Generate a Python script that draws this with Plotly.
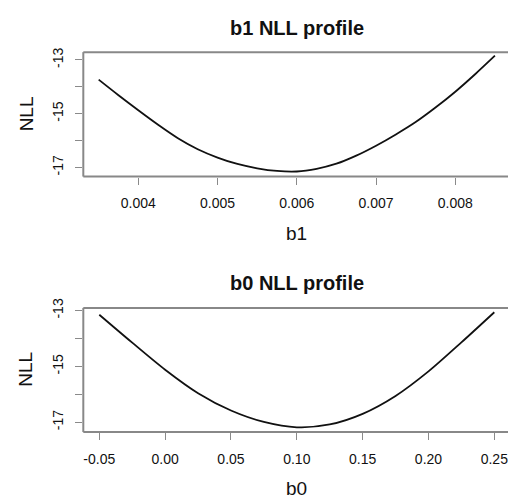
import plotly.graph_objects as go

# ---- data ----
b1_vals = [0.0035, 0.00375, 0.004, 0.00425, 0.0045, 0.00475, 0.005, 0.00525,
           0.0055, 0.00575, 0.006, 0.00625, 0.0065, 0.00675, 0.007, 0.00725,
           0.0075, 0.00775, 0.008, 0.00825, 0.0085]
b1_nll = [-13.73, -14.31, -14.87, -15.41, -15.91, -16.32, -16.63, -16.87,
          -17.03, -17.13, -17.15, -17.05, -16.86, -16.56, -16.19, -15.77,
          -15.31, -14.77, -14.18, -13.53, -12.84]

b0_vals = [-0.05, -0.025, 0.0, 0.025, 0.05, 0.075, 0.10, 0.125, 0.15,
           0.175, 0.20, 0.225, 0.25]
b0_nll = [-13.15, -14.15, -15.12, -15.96, -16.58, -16.99, -17.18, -17.08,
          -16.70, -16.06, -15.18, -14.14, -13.06]

b1_ticks = [0.004, 0.005, 0.006, 0.007, 0.008]
b1_ticktext = ["0.004", "0.005", "0.006", "0.007", "0.008"]
b0_ticks = [-0.05, 0.0, 0.05, 0.10, 0.15, 0.20, 0.25]
b0_ticktext = ["-0.05", "0.00", "0.05", "0.10", "0.15", "0.20", "0.25"]
nll_ticks = [-17, -16, -15, -14, -13]
nll_ticktext = ["-17", "", "-15", "", "-13"]

titles = ["b1 NLL profile", "b0 NLL profile"]
xlabels = ["b1", "b0"]
ylabel = "NLL"

# ---- layout geometry (pixels) ----
W, H = 508, 498
FONT = "Liberation Sans, Arial, Helvetica, sans-serif"
AX = "#8a8a8a"
FRAME = "#888888"
TXT = "#111111"

def px(x):
    return x / W

def py(y):
    return 1 - y / H

fig = go.Figure()
fig.add_trace(go.Scatter(x=b1_vals, y=b1_nll, mode="lines", xaxis="x", yaxis="y",
                         line=dict(color="#111111", width=1.8, shape="spline", smoothing=0.8),
                         showlegend=False, hoverinfo="skip"))
fig.add_trace(go.Scatter(x=b0_vals, y=b0_nll, mode="lines", xaxis="x2", yaxis="y2",
                         line=dict(color="#111111", width=1.8, shape="spline", smoothing=0.8),
                         showlegend=False, hoverinfo="skip"))

def xaxis(domain, rng, vals, text, anchor):
    return dict(domain=domain, range=rng, tickmode="array", tickvals=vals, ticktext=text,
                showline=False,
                ticks="outside", ticklen=7, tickcolor=AX, tickwidth=1.3,
                showgrid=False, zeroline=False, anchor=anchor,
                tickfont=dict(family=FONT, size=14, color=TXT),
                ticklabelstandoff=7, ticklabeloverflow="allow")

def yaxis(domain, rng, anchor):
    return dict(domain=domain, range=rng, tickmode="array", tickvals=nll_ticks,
                ticktext=nll_ticktext, tickangle=-90,
                showline=False,
                ticks="outside", ticklen=7, tickcolor=AX, tickwidth=1.3,
                showgrid=False, zeroline=False, anchor=anchor,
                tickfont=dict(family=FONT, size=14, color=TXT),
                ticklabelstandoff=7, ticklabeloverflow="allow")

left = 83.3
fig.update_layout(
    width=W, height=H, autosize=False,
    margin=dict(l=0, r=0, t=0, b=0),
    paper_bgcolor="white", plot_bgcolor="white",
    xaxis=xaxis([px(left), 1.0], [0.003306, 0.008665], b1_ticks, b1_ticktext, "y"),
    yaxis=yaxis([py(170), py(43)], [-17.339, -12.708], "x"),
    xaxis2=xaxis([px(left), 1.0], [-0.06215, 0.2604], b0_ticks, b0_ticktext, "y2"),
    yaxis2=yaxis([py(430.7), py(304)], [-17.351, -12.905], "x2"),
)

# frame drawn as separate paper-referenced lines (left, top, bottom)
shapes = []
for top, bot in [(43, 170), (304, 430.7)]:
    for (x0, y0, x1, y1) in [(left, top, left, bot), (left, top, W + 2, top),
                             (left, bot, W + 2, bot)]:
        shapes.append(dict(type="line", xref="paper", yref="paper",
                           x0=px(x0), x1=px(x1), y0=py(y0), y1=py(y1),
                           line=dict(color=FRAME, width=2), layer="above"))
fig.update_layout(shapes=shapes)

ann = []
for i, off in enumerate([0, 260]):
    ann.append(dict(text="<b>%s</b>" % titles[i], x=px(296.5), y=py(18.5 + off),
                    xref="paper", yref="paper", xanchor="center", yanchor="middle",
                    showarrow=False, font=dict(family=FONT, size=20, color=TXT)))
    ann.append(dict(text=xlabels[i], x=px(296), y=py(228 + off),
                    xref="paper", yref="paper", xanchor="center", yanchor="middle",
                    showarrow=False, font=dict(family=FONT, size=19, color=TXT)))
    ann.append(dict(text=ylabel, x=px(26), y=py(106.5 + off + (0.7 if i else 0)),
                    xref="paper", yref="paper", xanchor="center", yanchor="middle",
                    textangle=-90, showarrow=False,
                    font=dict(family=FONT, size=19, color=TXT)))
fig.update_layout(annotations=ann)

fig.write_html("out.html")
